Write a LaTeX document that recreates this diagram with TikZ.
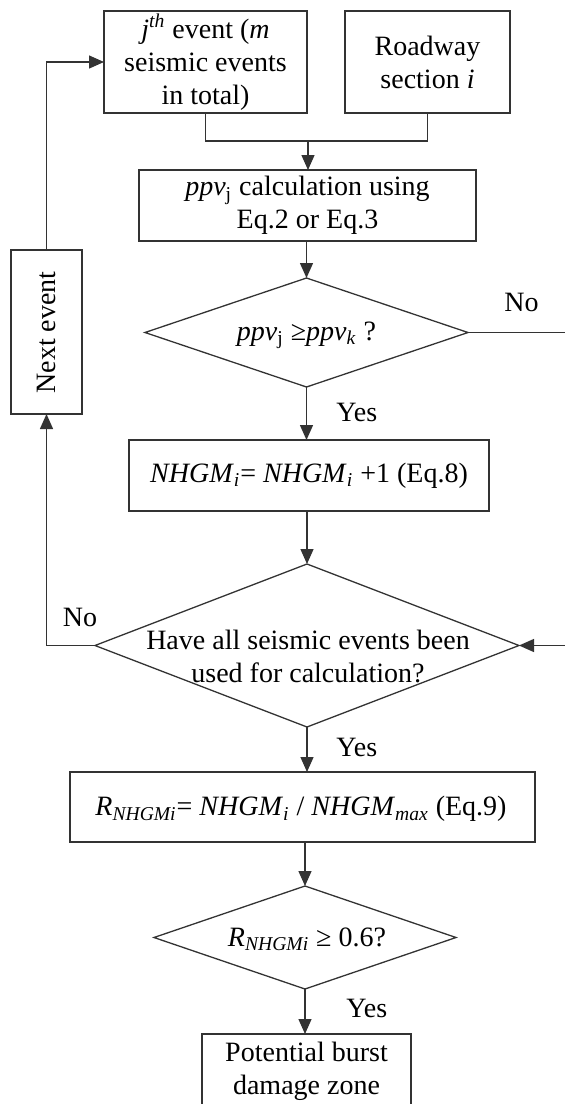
\documentclass[tikz,border=0pt]{standalone}
\usepackage{fontspec}
\setmainfont{Liberation Serif}
\usetikzlibrary{shapes.geometric,arrows.meta}
\begin{document}
\begin{tikzpicture}[x=0.5pt,y=-0.5pt,
  txt/.style={font=\fontsize{14}{16.5}\selectfont, align=center, inner sep=0pt},
  boxn/.style={draw=black!80, line width=0.65pt, rectangle, inner sep=0pt, outer sep=0pt, txt},
  dia/.style={draw=black!80, line width=0.65pt, diamond, inner sep=0pt, outer sep=0pt},
  lbl/.style={txt},
  conn/.style={draw=black!80, line width=0.65pt},
  arr/.style={conn, -{Triangle[length=7.5pt,width=6.5pt]}}]
\useasboundingbox (0,0) rectangle (564,1104);
% boxes
\node[boxn, minimum width=101.5pt, minimum height=51pt] (ev) at (205.5,62)
  {\textit{j}\textsuperscript{\textit{th}} event (\textit{m}\\seismic events\\in total)};
\node[boxn, minimum width=82.5pt, minimum height=51pt] (road) at (427.5,62)
  {Roadway\\section \textit{i}};
\node[boxn, minimum width=168.5pt, minimum height=35.5pt] (calc) at (307.5,205.5)
  {\textit{ppv}\textsubscript{j} calculation using\\Eq.2 or Eq.3};
\node[dia, minimum width=161.5pt, minimum height=54.5pt] (d1) at (306.5,332.5) {};
\node[txt] (d1t) at (306.5,335) {\textit{ppv}\textsubscript{j} ≥\textit{ppv}\textsubscript{\textit{k}} ?};
\node[boxn, minimum width=180pt, minimum height=35.5pt] (nh) at (309,475.5)
  {\textit{NHGM}\textsubscript{\textit{i}}= \textit{NHGM}\textsubscript{\textit{i}} +1 (Eq.8)};
\node[dia, minimum width=212pt, minimum height=81.5pt] (d2) at (307,645.5) {};
\node[txt] (d2t) at (308,656) {Have all seismic events been\\used for calculation?};
\node[boxn, minimum width=232.5pt, minimum height=35pt] (rb) at (302.5,807) {};
\node[txt] (rbt) at (301,809)
  {\textit{R}\textsubscript{\textit{NHGMi}}= \textit{NHGM}\textsubscript{\textit{i}} / \textit{NHGM}\textsubscript{\textit{max}} (Eq.9)};
\node[dia, minimum width=151pt, minimum height=51.5pt] (d3) at (305,937.5) {};
\node[txt] (d3t) at (307,939) {\textit{R}\textsubscript{\textit{NHGMi}} ≥ 0.6?};
\node[boxn, minimum width=104.5pt, minimum height=37pt] (pb) at (306.5,1071)
  {Potential burst\\damage zone};
\node[boxn, minimum width=35.5pt, minimum height=82pt] (next) at (46.5,332) {};
\node[txt, rotate=90] (nextt) at (46.5,332.5) {Next event};
% connectors
\coordinate (j) at (308,141);
\draw[conn] (ev.south) |- (j) -| (road.south);
\draw[arr] (j) -- (j |- calc.north);
\draw[arr] (calc.south -| d1.north) -- (d1.north);
\draw[arr] (d1.south) -- (d1.south |- nh.north);
\draw[arr] (nh.south -| d2.north) -- (d2.north);
\draw[arr] (d2.south) -- (d2.south |- rb.north);
\draw[arr] (rb.south -| d3.north) -- (d3.north);
\draw[arr] (d3.south) -- (d3.south |- pb.north);
\coordinate (r1) at (566,332.5);
\draw[arr] (d1.east) -- (r1) |- (d2.east);
\draw[arr] (d2.west) -| (next.south);
\draw[arr] (next.north) |- (ev.west);
% labels
\node[lbl, anchor=west] (y1) at (336,412) {Yes};
\node[lbl, anchor=west] (y2) at (336,747) {Yes};
\node[lbl, anchor=west] (y3) at (346,1008) {Yes};
\node[lbl] (n1) at (521.5,302) {No};
\node[lbl] (n2) at (80,617) {No};
\end{tikzpicture}
\end{document}
